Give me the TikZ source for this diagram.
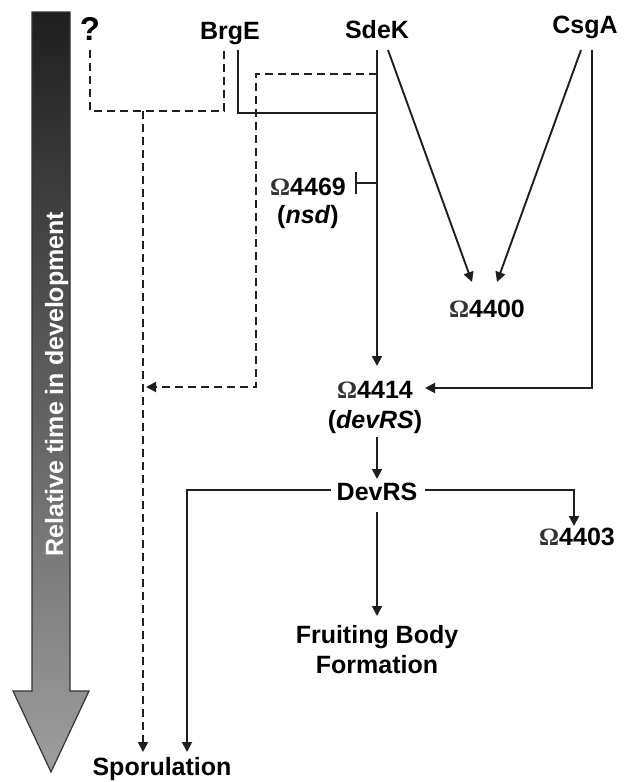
\documentclass[tikz,border=0pt]{standalone}
\usepackage{fontspec}
\setmainfont{Liberation Sans}
\newfontfamily\omgfont{Liberation Serif}
\usetikzlibrary{arrows.meta}
\newcommand{\Om}{{\omgfont\bfseries\textcolor{black!80}{Ω}}}
\begin{document}
\begin{tikzpicture}[x=1pt,y=-1pt,
  lbl/.style={font=\fontsize{25}{30}\selectfont\bfseries, inner sep=0pt, anchor=base},
  conn/.style={line width=1.9pt, draw=black!88},
  dconn/.style={conn, dash pattern=on 8pt off 5pt},
  tip/.style={-{Triangle[length=10pt,width=10pt]}},
  bar/.style={-{Bar[width=22pt,line width=1.9pt]}}
]
\useasboundingbox (0,0) rectangle (627,782);
% time arrow
\path[draw=black!80, line width=1.2pt, top color=black!88, bottom color=black!38]
  (32,12) -- (70,12) -- (70,691) -- (89,691) -- (51,772) -- (13,691) -- (32,691) -- cycle;
\node[lbl, text=white, rotate=90] (timelbl) at (63,384) {Relative time in development};

% labels
\node[lbl, font=\fontsize{33}{36}\selectfont\bfseries] (q) at (90,40) {?};
\node[lbl] (brge) at (230,39) {BrgE};
\node[lbl] (sdek) at (377,38) {SdeK};
\node[lbl] (csga) at (585,33) {CsgA};
\node[lbl] (n4469) at (308,195) {\Om4469};
\node[lbl] (nsd) at (308,223) {(\textit{nsd})};
\node[lbl] (n4400) at (487,317) {\Om4400};
\node[lbl] (n4414) at (375,398) {\Om4414};
\node[lbl] (devrsg) at (375,428) {(\textit{devRS})};
\node[lbl] (devrs) at (377,500) {DevRS};
\node[lbl] (n4403) at (577,545) {\Om4403};
\node[lbl] (fb1) at (377,643) {Fruiting Body};
\node[lbl] (fb2) at (377,673) {Formation};
\node[lbl] (spor) at (162,775) {Sporulation};

% coordinates
\coordinate (qd) at (90,50);
\coordinate (bd) at (224,50);
\coordinate (bs) at (238,50);
\coordinate (sd) at (377,50);
\coordinate (sdiag) at (388,50);
\coordinate (cdiag) at (581,50);
\coordinate (cd) at (592,50);
\coordinate (dashjoin) at (143,111);
\coordinate (sporA) at (143,752);
\coordinate (sporB) at (187,752);
\coordinate (dk) at (256,387);
\coordinate (dkend) at (146,387);
\coordinate (n4414top) at (377,366);
\coordinate (n4414r) at (425,388);
\coordinate (n4400l) at (472,282);
\coordinate (n4400r) at (497,282);
\coordinate (inh) at (355,183);
\coordinate (devl) at (331,490);
\coordinate (devr) at (425,490);
\coordinate (n4403top) at (574,526);
\coordinate (fbtop) at (377,616);
\coordinate (devtop) at (377,479);
\coordinate (devsgb) at (377,437);
\coordinate (devbot) at (377,512);

% dashed connectors
\draw[dconn] (qd) |- (224,111) -- (bd);
\draw[dconn, tip] (dashjoin) -- (sporA);
\draw[dconn, tip] (377,74) -| (dk) -- (dkend);

% solid connectors
\draw[conn] (bs) |- (377,113);
\draw[conn, tip] (sd) -- (n4414top);
\draw[conn, bar] (377,183) -- (inh);
\draw[conn, tip] (sdiag) -- (n4400l);
\draw[conn, tip] (cdiag) -- (n4400r);
\draw[conn, tip] (cd) |- (n4414r);
\draw[conn, tip] (devsgb) -- (devtop);
\draw[conn, tip] (devl) -| (sporB);
\draw[conn, tip] (devr) -| (n4403top);
\draw[conn, tip] (devbot) -- (fbtop);
\end{tikzpicture}
\end{document}
